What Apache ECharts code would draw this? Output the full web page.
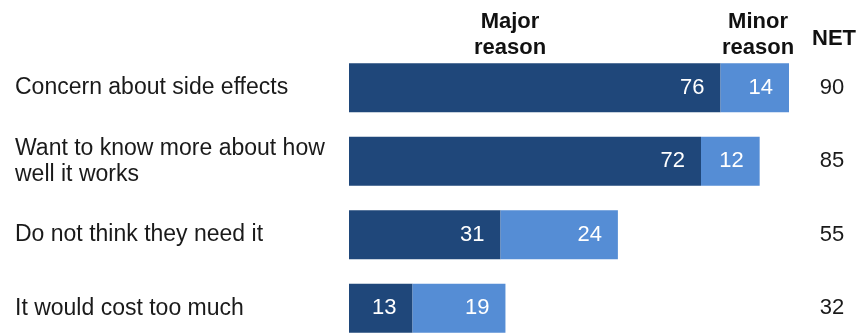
<!DOCTYPE html>
<html>
<head>
<meta charset="utf-8">
<script src="https://cdn.jsdelivr.net/npm/echarts@6/dist/echarts.min.js"></script>
<style>
  html, body { margin: 0; padding: 0; background: #fff; }
  #chart { width: 856px; height: 333px; }
</style>
</head>
<body>
<div id="chart"></div>
<script>
// Reasons for not getting vaccinated: major / minor share and NET
const categories = [
  'Concern about side effects',
  'Want to know more about how\nwell it works',
  'Do not think they need it',
  'It would cost too much'
];
const majorReason = [76, 72, 31, 13];
const minorReason = [14, 12, 24, 19];
const netValues = [90, 85, 55, 32];

const FONT = '"Liberation Sans", Arial, sans-serif';
const DARK = '#1f477a';
const LIGHT = '#558dd5';

const chart = echarts.init(document.getElementById('chart'), null, { renderer: 'canvas' });

const segLabel = {
  show: true,
  position: 'insideRight',
  distance: 16,
  color: '#ffffff',
  fontFamily: FONT,
  fontSize: 22
};

const headerStyle = {
  align: 'center',
  verticalAlign: 'top',
  font: 'bold 22px ' + FONT,
  fill: '#111111',
  lineHeight: 26
};

chart.setOption({
  animation: false,
  backgroundColor: '#ffffff',
  grid: { left: 349, top: 51, width: 440, height: 294, outerBoundsMode: 'none', containLabel: false },
  xAxis: {
    type: 'value',
    min: 0,
    max: 90,
    show: false
  },
  yAxis: [
    {
      type: 'category',
      data: categories,
      inverse: true,
      axisLine: { show: false },
      axisTick: { show: false },
      axisLabel: {
        align: 'left',
        margin: 334,
        color: '#1a1a1a',
        fontFamily: FONT,
        fontSize: 23,
        lineHeight: 26
      }
    },
    {
      type: 'category',
      data: netValues.map(String),
      inverse: true,
      position: 'right',
      axisLine: { show: false },
      axisTick: { show: false },
      axisLabel: {
        align: 'center',
        margin: 43,
        color: '#1a1a1a',
        fontFamily: FONT,
        fontSize: 22
      }
    }
  ],
  graphic: [
    {
      type: 'text', x: 510, y: 9,
      style: Object.assign({ text: 'Major\nreason' }, headerStyle)
    },
    {
      type: 'text', x: 758, y: 9,
      style: Object.assign({ text: 'Minor\nreason' }, headerStyle)
    },
    {
      type: 'text', x: 834, y: 39,
      style: Object.assign({ text: 'NET' }, headerStyle, { verticalAlign: 'middle' })
    }
  ],
  series: [
    {
      name: 'Major reason',
      type: 'bar',
      stack: 'total',
      barWidth: 49,
      data: majorReason,
      itemStyle: { color: DARK },
      label: segLabel
    },
    {
      name: 'Minor reason',
      type: 'bar',
      stack: 'total',
      barWidth: 49,
      data: minorReason,
      itemStyle: { color: LIGHT },
      label: segLabel
    }
  ]
});
</script>
</body>
</html>
